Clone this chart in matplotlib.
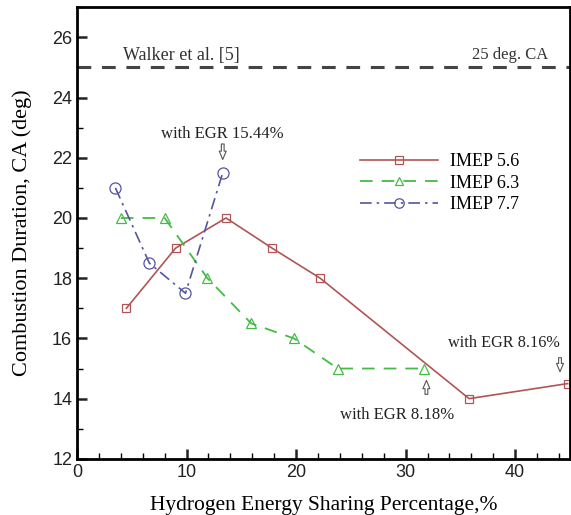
import matplotlib
matplotlib.use("Agg")
import matplotlib.pyplot as plt
from matplotlib.ticker import MultipleLocator

# IMEP 5.6 series
x_56 = [4.5, 9.0, 13.6, 17.8, 22.2, 35.8, 44.8]
y_56 = [17.0, 19.0, 20.0, 19.0, 18.0, 14.0, 14.5]

# IMEP 6.3 series
x_63 = [4.0, 8.0, 11.9, 15.9, 19.8, 23.8, 31.7]
y_63 = [20.0, 20.0, 18.0, 16.5, 16.0, 15.0, 15.0]

# IMEP 7.7 series
x_77 = [3.5, 6.6, 9.9, 13.3]
y_77 = [21.0, 18.5, 17.5, 21.5]

walker_ref = 25.0

SERIF = "Liberation Serif"
SANS = "Liberation Sans"

fig = plt.figure(figsize=(5.71, 5.15), dpi=100)
ax = fig.add_axes([0.135, 0.109, 0.863, 0.877])

ax.plot(x_56, y_56, "-", color="#b05555", lw=1.2, marker="s", ms=6,
        mfc="none", mec="#b05555", mew=0.9, label="IMEP 5.6")
ax.plot(x_63, y_63, color="#44bb44", lw=1.3, ls=(0, (7, 5)), marker="^", ms=7,
        mfc="none", mec="#44bb44", mew=0.9, label="IMEP 6.3")
ax.plot(x_77, y_77, color="#5555a0", lw=1.2, ls=(0, (7, 3, 1.5, 3)), marker="o", ms=8,
        mfc="none", mec="#5555a0", mew=0.9, label="IMEP 7.7")

ax.axhline(walker_ref, color="#444444", lw=2.2, ls=(0, (4.5, 3.5)))
ax.text(4.2, walker_ref + 0.4, "Walker et al. [5]", fontsize=13, family=SERIF,
        color="#333333", va="center")
ax.text(43.0, walker_ref + 0.4, "25 deg. CA", fontsize=12, family=SERIF,
        color="#333333", va="center", ha="right")

arrow = dict(arrowstyle="simple,head_width=0.5,head_length=0.6,tail_width=0.2",
             fc="white", ec="#555555", lw=0.8)
ax.annotate("", xy=(13.3, 21.85), xytext=(13.3, 22.55), arrowprops=arrow)
ax.text(13.3, 22.78, "with EGR 15.44%", fontsize=12, family=SERIF, ha="center",
        va="center", color="#222222")
ax.annotate("", xy=(31.9, 14.7), xytext=(31.9, 14.05), arrowprops=arrow)
ax.text(29.2, 13.46, "with EGR 8.18%", fontsize=12, family=SERIF, ha="center",
        va="center", color="#222222")
ax.annotate("", xy=(44.1, 14.8), xytext=(44.1, 15.45), arrowprops=arrow)
ax.text(39.0, 15.85, "with EGR 8.16%", fontsize=11.7, family=SERIF, ha="center",
        va="center", color="#222222")

ax.set_xlim(0, 45)
ax.set_ylim(12, 27)
ax.xaxis.set_major_locator(MultipleLocator(10))
ax.xaxis.set_minor_locator(MultipleLocator(2))
ax.yaxis.set_major_locator(MultipleLocator(2))
ax.yaxis.set_minor_locator(MultipleLocator(1))
ax.tick_params(which="major", direction="in", length=7, width=1.8, labelsize=13,
               colors="#222222")
ax.tick_params(which="minor", direction="in", length=4, width=1.0)
for lab in ax.get_xticklabels() + ax.get_yticklabels():
    lab.set_family(SANS)
for s in ax.spines.values():
    s.set_linewidth(2.0)

ax.set_xlabel("Hydrogen Energy Sharing Percentage,%", fontsize=15.5, family=SERIF)
ax.set_ylabel("Combustion Duration, CA (deg)", fontsize=16, family=SERIF)
ax.xaxis.set_label_coords(0.5, -0.083)
ax.yaxis.set_label_coords(-0.092, 0.5)

ax.legend(loc="upper left", bbox_to_anchor=(0.542, 0.713), frameon=False,
          prop={"family": SERIF, "size": 13}, handlelength=4.3,
          labelspacing=0.25, handletextpad=0.67, markerscale=0.85)

fig.savefig("out.png", dpi=100)
